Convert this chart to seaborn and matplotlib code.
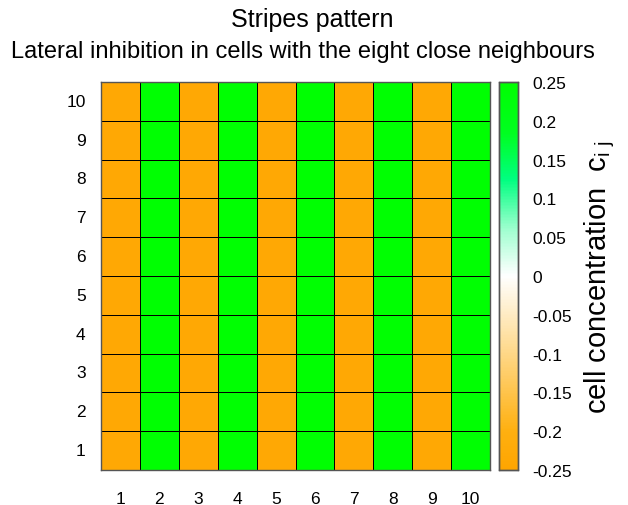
import numpy as np
import pandas as pd
import matplotlib
matplotlib.use("Agg")
import matplotlib.pyplot as plt
import seaborn as sns
from matplotlib.colors import LinearSegmentedColormap

# ---- data ----
rows = [1, 2, 3, 4, 5, 6, 7, 8, 9, 10]
cols = [1, 2, 3, 4, 5, 6, 7, 8, 9, 10]
column_values = [-0.235, 0.245, -0.235, 0.245, -0.235, 0.245, -0.235, 0.245, -0.235, 0.245]
cbar_ticks = [-0.25, -0.2, -0.15, -0.1, -0.05, 0, 0.05, 0.1, 0.15, 0.2, 0.25]
cbar_ticklabels = ["-0.25", "-0.2", "-0.15", "-0.1", "-0.05", "0", "0.05", "0.1", "0.15", "0.2", "0.25"]

grid = pd.DataFrame([column_values for _ in rows], index=rows, columns=cols)
grid = grid.iloc[::-1]  # row 10 at top

sns.set_style("white")
plt.rcParams['font.family'] = ['Liberation Sans', 'DejaVu Sans']
plt.rcParams['text.color'] = 'black'
plt.rcParams['xtick.color'] = 'black'
plt.rcParams['ytick.color'] = 'black'
plt.rcParams['axes.labelcolor'] = 'black'

cmap = LinearSegmentedColormap.from_list(
    "og",
    [(0.0, "#ffa500"), (0.1, "#ffb010"), (0.5, "#ffffff"), (0.62, "#a0ffd0"), (0.75, "#00ff80"), (0.87, "#00ff20"), (1.0, "#00ff00")],
)

fig = plt.figure(figsize=(6.28, 5.06), dpi=100)
W, H = 628, 506
ax = fig.add_axes([101 / W, 1 - 471 / H, 389 / W, 388 / H])
cax = fig.add_axes([499 / W, 1 - 471 / H, 19 / W, 388 / H])

sns.heatmap(grid, ax=ax, cbar_ax=cax, cmap=cmap, vmin=-0.25, vmax=0.25,
            linewidths=0.5, linecolor="black", cbar=True)

ax.tick_params(axis="both", length=0, labelsize=12.5, colors="black")
ax.tick_params(axis="x", pad=15)
ax.tick_params(axis="y", pad=11)
ax.set_xticklabels([str(c) for c in cols], rotation=0)
ax.set_yticklabels([str(r) for r in grid.index], rotation=0)
ax.set_xlabel("")
ax.set_ylabel("")
for s in ax.spines.values():
    s.set_visible(True)
    s.set_color("#555555")
    s.set_linewidth(1)

cax.set_yticks(cbar_ticks)
cax.set_yticklabels(cbar_ticklabels)
cax.tick_params(axis="y", length=0, labelsize=12.5, pad=10, colors="black")
cax.set_ylabel("cell concentration  c$_{\\mathregular{i\\ j}}$", fontsize=21, labelpad=8)
for s in cax.spines.values():
    s.set_visible(True)
    s.set_color("#555555")
    s.set_linewidth(1)

fig.text(0.497, 1 - 20 / H, "Stripes pattern", ha="center", va="center", fontsize=18)
fig.text(0.483, 1 - 52 / H, "Lateral inhibition in cells with the eight close neighbours",
         ha="center", va="center", fontsize=17)

fig.savefig("out.png", dpi=100)
